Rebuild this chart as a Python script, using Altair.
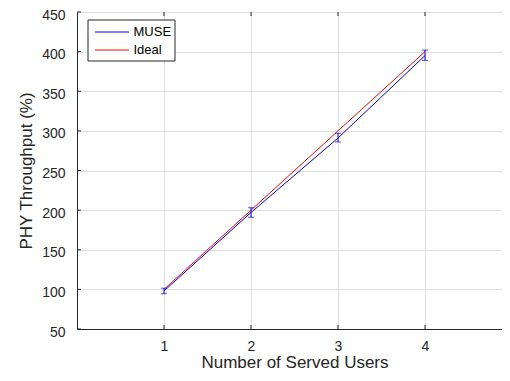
import altair as alt
import pandas as pd

users = [1, 2, 3, 4]
muse = [98, 197, 291, 395]
muse_lo = [94.5, 191, 286, 389]
muse_hi = [101.5, 203, 297, 402]
ideal = [100, 200, 300, 400]
series_names = ["MUSE", "Ideal"]
series_colors = ["#0000ff", "#ff0000"]
x_ticks = [1, 2, 3, 4]
y_ticks = [50, 100, 150, 200, 250, 300, 350, 400, 450]

FONT = "Liberation Sans"
AX = "#262626"

lines_df = pd.DataFrame(
    {"users": users * 2,
     "tp": muse + ideal,
     "series": ["MUSE"] * 4 + ["Ideal"] * 4}
)
err_df = pd.DataFrame({"users": users, "lo": muse_lo, "hi": muse_hi})
xt_df = pd.DataFrame({"v": x_ticks})
yt_df = pd.DataFrame({"v": y_ticks})

W, H = 435, 317
xscale = alt.Scale(domain=[0, 5], nice=False, zero=False)
yscale = alt.Scale(domain=[50, 450], nice=False, zero=False)

xaxis = alt.Axis(values=x_ticks, title="Number of Served Users", format="d",
                 ticks=False, labelPadding=10, titlePadding=1, domain=True,
                 labelOverlap=False)
yaxis = alt.Axis(values=y_ticks, title="PHY Throughput (%)", format="d",
                 ticks=False, labelPadding=12, titlePadding=6, domain=True,
                 labelOverlap=False, labelOffset=3)

color = alt.Color("series:N",
                  scale=alt.Scale(domain=series_names, range=series_colors),
                  legend=alt.Legend(title=None))


def X(field):
    return alt.X(field, scale=xscale, axis=xaxis)


def Y(field):
    return alt.Y(field, scale=yscale, axis=yaxis)


lines = alt.Chart(lines_df).mark_line(strokeWidth=1).encode(
    x=X("users:Q"), y=Y("tp:Q"), color=color,
)

err_rule = alt.Chart(err_df).mark_rule(color="#0000ff", strokeWidth=1).encode(
    x=X("users:Q"), y=Y("lo:Q"), y2="hi:Q",
)
cap_lo = alt.Chart(err_df).mark_tick(color="#0000ff", orient="horizontal",
                                     size=6, thickness=1).encode(
    x=X("users:Q"), y=Y("lo:Q"))
cap_hi = alt.Chart(err_df).mark_tick(color="#0000ff", orient="horizontal",
                                     size=6, thickness=1).encode(
    x=X("users:Q"), y=Y("hi:Q"))

xt_bot = alt.Chart(xt_df).mark_rule(color=AX, strokeWidth=1).encode(
    x=X("v:Q"), y=alt.value(H), y2=alt.value(H - 4))
xt_top = alt.Chart(xt_df).mark_rule(color=AX, strokeWidth=1).encode(
    x=X("v:Q"), y=alt.value(0), y2=alt.value(4))
yt_left = alt.Chart(yt_df).mark_rule(color=AX, strokeWidth=1).encode(
    y=Y("v:Q"), x=alt.value(0), x2=alt.value(4))
yt_right = alt.Chart(yt_df).mark_rule(color=AX, strokeWidth=1).encode(
    y=Y("v:Q"), x=alt.value(W - 4), x2=alt.value(W))

chart = alt.layer(
    lines, err_rule, cap_lo, cap_hi, xt_bot, xt_top, yt_left, yt_right
).properties(
    width=W, height=H,
    autosize=alt.AutoSizeParams(type="none"),
    padding={"left": 69, "top": 4, "right": -10, "bottom": 44},
).configure_view(
    stroke=AX, strokeWidth=1
).configure_axis(
    grid=True, gridColor="#dfdfdf", gridWidth=1,
    domainColor=AX, domainWidth=1, labelOverlap=False,
    labelFont=FONT, labelFontSize=14, labelColor=AX,
    titleFont=FONT, titleFontSize=17, titleColor=AX, titleFontWeight="normal",
).configure_legend(
    orient="none", legendX=10.5, legendY=7.5,
    strokeColor=AX, fillColor="white", padding=3, cornerRadius=0,
    symbolType="M-1.89,0H1.89", symbolSize=324, symbolStrokeWidth=1,
    symbolOffset=12,
    labelFont=FONT, labelFontSize=13, labelColor="#000000", labelOffset=12,
    rowPadding=1,
)

chart.save("out.html", embed_options={"renderer": "svg", "actions": False})
